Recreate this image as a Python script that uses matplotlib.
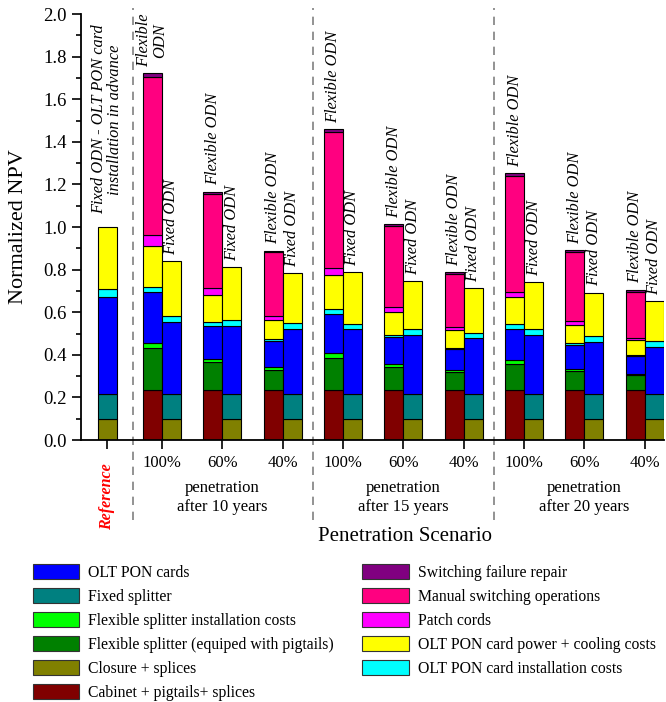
import numpy as np
import matplotlib
matplotlib.use("Agg")
import matplotlib.pyplot as plt
from matplotlib.patches import Patch
import matplotlib.transforms as mtransforms

plt.rcParams['font.family'] = ['Liberation Serif', 'DejaVu Serif']

# Data (normalized NPV)
tick_labels = ['', '100%', '60%', '40%', '100%', '60%', '40%', '100%', '60%', '40%']
group_labels = ['penetration\nafter 10 years', 'penetration\nafter 15 years', 'penetration\nafter 20 years']

# Reference bar (fixed ODN, OLT PON cards installed in advance)
ref_closure = 0.097
ref_fixed_splitter = 0.120
ref_olt_cards = 0.453
ref_olt_install = 0.038
ref_power = 0.292

# Flexible ODN bars (9 scenarios)
flex_cabinet = [0.234, 0.234, 0.234, 0.234, 0.234, 0.234, 0.234, 0.234, 0.234]
flex_splitter = [0.196, 0.132, 0.097, 0.152, 0.108, 0.083, 0.125, 0.088, 0.072]
flex_install = [0.025, 0.015, 0.011, 0.023, 0.013, 0.010, 0.019, 0.011, 0.006]
flex_olt_cards = [0.239, 0.156, 0.122, 0.182, 0.128, 0.100, 0.145, 0.112, 0.082]
flex_olt_install = [0.025, 0.018, 0.009, 0.023, 0.012, 0.007, 0.021, 0.010, 0.006]
flex_power = [0.193, 0.128, 0.091, 0.159, 0.108, 0.083, 0.126, 0.087, 0.070]
flex_patch = [0.052, 0.031, 0.020, 0.035, 0.022, 0.013, 0.027, 0.016, 0.007]
flex_manual = [0.742, 0.443, 0.297, 0.636, 0.381, 0.250, 0.544, 0.325, 0.218]
flex_failure = [0.015, 0.009, 0.008, 0.014, 0.008, 0.009, 0.012, 0.008, 0.010]

# Fixed ODN bars (9 scenarios)
fix_closure = [0.097] * 9
fix_splitter = [0.120] * 9
fix_olt_cards = [0.338, 0.317, 0.302, 0.302, 0.278, 0.260, 0.274, 0.245, 0.220]
fix_olt_install = [0.028, 0.028, 0.029, 0.028, 0.028, 0.026, 0.028, 0.027, 0.029]
fix_power = [0.256, 0.249, 0.235, 0.240, 0.224, 0.211, 0.222, 0.202, 0.186]

colors = {
    'OLT PON cards': '#0000FF',
    'Fixed splitter': '#008080',
    'Flexible splitter installation costs': '#00FF00',
    'Flexible splitter (equiped with pigtails)': '#008000',
    'Closure + splices': '#808000',
    'Cabinet + pigtails+ splices': '#800000',
    'Switching failure repair': '#800080',
    'Manual switching operations': '#FF0080',
    'Patch cords': '#FF00FF',
    'OLT PON card power + cooling costs': '#FFFF00',
    'OLT PON card installation costs': '#00FFFF',
}

flex_stack = [
    (flex_cabinet, 'Cabinet + pigtails+ splices'),
    (flex_splitter, 'Flexible splitter (equiped with pigtails)'),
    (flex_install, 'Flexible splitter installation costs'),
    (flex_olt_cards, 'OLT PON cards'),
    (flex_olt_install, 'OLT PON card installation costs'),
    (flex_power, 'OLT PON card power + cooling costs'),
    (flex_patch, 'Patch cords'),
    (flex_manual, 'Manual switching operations'),
    (flex_failure, 'Switching failure repair'),
]
fix_stack = [
    (fix_closure, 'Closure + splices'),
    (fix_splitter, 'Fixed splitter'),
    (fix_olt_cards, 'OLT PON cards'),
    (fix_olt_install, 'OLT PON card installation costs'),
    (fix_power, 'OLT PON card power + cooling costs'),
]
ref_stack = [
    (ref_closure, 'Closure + splices'),
    (ref_fixed_splitter, 'Fixed splitter'),
    (ref_olt_cards, 'OLT PON cards'),
    (ref_olt_install, 'OLT PON card installation costs'),
    (ref_power, 'OLT PON card power + cooling costs'),
]

fig = plt.figure(figsize=(6.66, 7.02), dpi=100)
ax = fig.add_axes([0.1216, 0.3732, 0.876, 0.6068])

pos = np.arange(1, 10)
ref_pos = 0.093
w = 0.315
ekw = dict(edgecolor='black', linewidth=0.8)

# reference bar
bottom = 0.0
for val, name in ref_stack:
    ax.bar(ref_pos, val, w, bottom=bottom, color=colors[name], **ekw)
    bottom += val
ref_top = bottom

# flexible bars (left of tick)
bottom = np.zeros(9)
for vals, name in flex_stack:
    ax.bar(pos, vals, -w, bottom=bottom, align='edge', color=colors[name], **ekw)
    bottom += np.array(vals)
flex_top = bottom.copy()

# fixed bars (right of tick)
bottom = np.zeros(9)
for vals, name in fix_stack:
    ax.bar(pos, vals, w, bottom=bottom, align='edge', color=colors[name], **ekw)
    bottom += np.array(vals)
fix_top = bottom.copy()

# rotated labels above bars
lab_kw = dict(rotation=90, ha='center', va='bottom', style='italic', fontsize=11.8)
ax.text(ref_pos, ref_top + 0.06, 'Fixed ODN - OLT PON card\ninstallation in advance',
        linespacing=1.0, **lab_kw)
for i in range(9):
    txt = 'Flexible\nODN' if flex_top[i] > 1.6 else 'Flexible ODN'
    ax.text(pos[i] - w / 2, flex_top[i] + 0.03, txt, linespacing=1.0, **lab_kw)
    ax.text(pos[i] + w / 2, fix_top[i] + 0.03, 'Fixed ODN', **lab_kw)

# dashed separators
for xd in [0.52, 3.5, 6.5]:
    ax.axvline(xd, ymin=-0.188, ymax=1.014, color='gray', linestyle=(0, (5, 4)),
               linewidth=1.2, clip_on=False)

ax.set_xlim(-0.343, 9.325)
ax.set_ylim(0, 2.0)
ax.set_yticks(np.arange(0, 2.01, 0.2))
ax.set_yticks(np.arange(0, 2.01, 0.1), minor=True)
ax.yaxis.set_major_formatter(matplotlib.ticker.FormatStrFormatter('%.1f'))
ax.set_xticks(np.concatenate([[ref_pos], pos]))
ax.set_xticklabels(tick_labels, fontsize=12)
ax.tick_params(axis='y', labelsize=13.5, length=6.5, width=1.2, direction='out')
ax.tick_params(axis='y', which='minor', length=3.5, width=1.2)
ax.tick_params(axis='x', length=6.5, width=1.2, pad=4)
for s in ['top', 'right']:
    ax.spines[s].set_visible(False)
for s in ['left', 'bottom']:
    ax.spines[s].set_linewidth(1.3)

trans = mtransforms.blended_transform_factory(ax.transData, ax.transAxes)
ax.text(ref_pos, -0.054, 'Reference', transform=trans, rotation=90, ha='center', va='top',
        color='red', fontweight='bold', style='italic', fontsize=11.5)
for gx, gl in zip([2, 5, 8], group_labels):
    ax.text(gx, -0.135, gl, transform=trans, ha='center', va='center',
            fontsize=12, linespacing=1.2)

ax.set_xlabel('Penetration Scenario', fontsize=15)
ax.xaxis.set_label_coords(0.556, -0.205)
ax.set_ylabel('Normalized NPV', fontsize=16)
ax.yaxis.set_label_coords(-0.09, 0.5)

legend_order = ['OLT PON cards', 'Fixed splitter', 'Flexible splitter installation costs',
                'Flexible splitter (equiped with pigtails)', 'Closure + splices',
                'Cabinet + pigtails+ splices', 'Switching failure repair',
                'Manual switching operations', 'Patch cords',
                'OLT PON card power + cooling costs', 'OLT PON card installation costs']
handles = [Patch(facecolor=colors[n], edgecolor='#333333', linewidth=0.8, label=n)
           for n in legend_order]
fig.legend(handles=handles, loc='upper left', bbox_to_anchor=(0.049, 1 - 564 / 702),
           ncol=2, frameon=False, fontsize=11.3, handlelength=2.97, handleheight=1.12,
           handletextpad=0.57, labelspacing=0.45, columnspacing=1.8,
           borderpad=0, borderaxespad=0)

fig.savefig('out.png', dpi=100)
